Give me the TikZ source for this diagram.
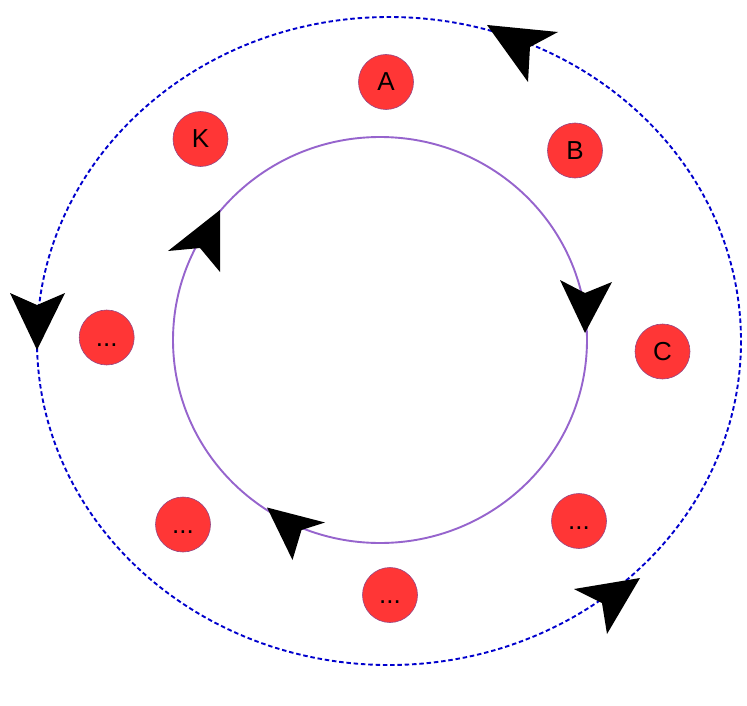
\documentclass[tikz,border=0pt]{standalone}
\usepackage{fontspec}
\setmainfont{Liberation Sans}
\definecolor{nodered}{RGB}{255,54,54}
\definecolor{noderim}{RGB}{150,70,130}
\definecolor{ringpurple}{RGB}{150,100,205}
\definecolor{ringblue}{RGB}{0,0,205}
\begin{document}
\begin{tikzpicture}[x=1pt,y=-1pt,
  ball/.style={circle,fill=nodered,draw=noderim,line width=0.6pt,minimum size=55pt,inner sep=0pt,
    font=\fontsize{26}{30}\selectfont},
  innerring/.style={draw=ringpurple,line width=1.9pt},
  outerring/.style={draw=ringblue,line width=1.9pt,dash pattern=on 4.5pt off 2.8pt},
  ahead/.style={fill=black}]
\useasboundingbox (0,0) rectangle (747,706);
\fill[white] (0,0) rectangle (747,706);
% rings
\draw[outerring] (389,341) ellipse [x radius=352, y radius=324];
\draw[innerring] (380,340) ellipse [x radius=207, y radius=203];
% nodes
\node[ball] (A)  at (386,82)  {A\vphantom{A}};
\node[ball] (K)  at (200.5,139) {K\vphantom{A}};
\node[ball] (B)  at (575,150.5) {B\vphantom{A}};
\node[ball] (C)  at (662.5,351.5) {C\vphantom{A}};
\node[ball] (L)  at (106.7,337.5) {...\vphantom{A}};
\node[ball] (BL) at (183,524.5) {...\vphantom{A}};
\node[ball] (BM) at (390,595) {...\vphantom{A}};
\node[ball] (BR) at (579,521) {...\vphantom{A}};
% arrowheads on the outer ring (counter-clockwise)
\fill[ahead] (487,25) -- (558,32) -- (530,47) -- (528,82) -- cycle;
\fill[ahead] (37,350) -- (10,293) -- (37,305) -- (65,293) -- cycle;
\fill[ahead] (640,578) -- (574,589) -- (602,603) -- (607,634) -- cycle;
% arrowheads on the inner ring (clockwise)
\fill[ahead] (585,333) -- (560,280) -- (585,293) -- (612,282) -- cycle;
\fill[ahead] (267,507.5) -- (325,522.5) -- (301.5,530) -- (292.5,560) -- cycle;
\fill[ahead] (220,210) -- (168,251) -- (200,248) -- (220,272) -- cycle;
\end{tikzpicture}
\end{document}
